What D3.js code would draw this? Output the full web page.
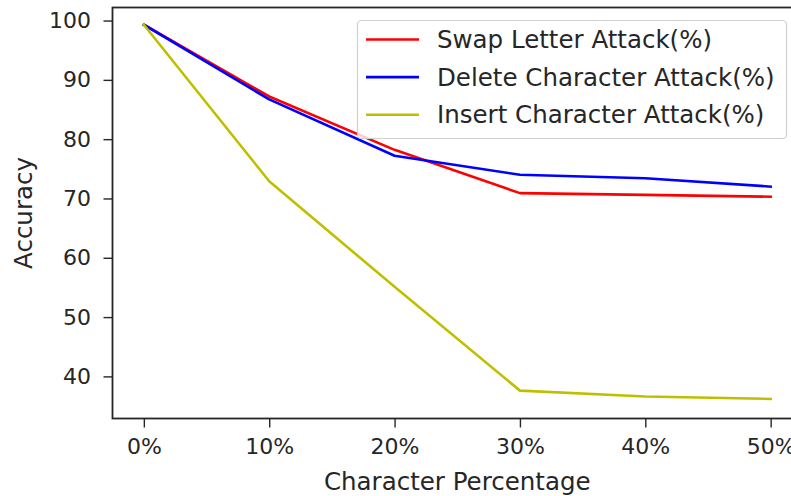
<!DOCTYPE html>
<html>
<head>
<meta charset="utf-8">
<script src="https://cdn.jsdelivr.net/npm/d3@7"></script>
<style>
  body { margin: 0; background: #fff; }
  text { font-family: "DejaVu Sans", sans-serif; fill: #262626; }
</style>
</head>
<body>
<div class="chart"></div>
<script>
var categories = ["0%", "10%", "20%", "30%", "40%", "50%"];
var swapLetter = [99.3, 87.2, 78.2, 70.9, 70.6, 70.3];
var deleteChar = [99.3, 86.7, 77.2, 74.0, 73.4, 72.0];
var insertChar = [99.3, 72.9, 55.1, 37.6, 36.6, 36.2];
var yTicks = [40, 50, 60, 70, 80, 90, 100];
var seriesNames = ["Swap Letter Attack(%)", "Delete Character Attack(%)", "Insert Character Attack(%)"];
var seriesColors = ["#ff0000", "#0000ff", "#bfbf00"];

var width = 791, height = 496;
var plot = { left: 112.5, right: 802, top: 7.5, bottom: 418.5 };
var tickFont = 22;
var labelFont = 24.5;

var svg = d3.select(".chart")
  .append("svg")
  .attr("width", width)
  .attr("height", height);

var xScale = d3.scaleLinear()
  .domain([-0.25, categories.length - 1 + 0.25])
  .range([plot.left, plot.right]);

var yScale = d3.scaleLinear()
  .domain([32.9, 102.2])
  .range([plot.bottom, plot.top]);

var allSeries = [swapLetter, deleteChar, insertChar];

var line = d3.line()
  .x((d, i) => xScale(i))
  .y(d => yScale(d));

svg.selectAll('path.series')
  .data(allSeries)
  .enter()
  .append('path')
  .classed('series', true)
  .attr('d', line)
  .attr('fill', 'none')
  .attr('stroke', (d, i) => seriesColors[i])
  .attr('stroke-width', 2.6)
  .attr('stroke-linejoin', 'round')
  .attr('stroke-linecap', 'square');

// axes
var xAxis = svg.append('g')
  .attr('transform', `translate(0, ${plot.bottom})`)
  .call(d3.axisBottom(xScale)
    .tickValues(d3.range(categories.length))
    .tickFormat(i => categories[i])
    .tickSizeInner(9)
    .tickSizeOuter(0)
    .tickPadding(11));

var yAxis = svg.append('g')
  .attr('transform', `translate(${plot.left}, 0)`)
  .call(d3.axisLeft(yScale)
    .tickValues(yTicks)
    .tickSizeInner(9)
    .tickSizeOuter(0)
    .tickPadding(12.5));

[xAxis, yAxis].forEach(function (ax) {
  ax.select('.domain').remove();
  ax.selectAll('line').attr('stroke', '#262626').attr('stroke-width', 1.4);
  ax.selectAll('text')
    .style('font-family', '"DejaVu Sans", sans-serif')
    .style('font-size', tickFont + 'px')
    .attr('fill', '#262626');
});

// spines
svg.append('rect')
  .attr('x', plot.left)
  .attr('y', plot.top)
  .attr('width', plot.right - plot.left)
  .attr('height', plot.bottom - plot.top)
  .attr('fill', 'none')
  .attr('stroke', '#262626')
  .attr('stroke-width', 1.8);

// axis titles
svg.append('text')
  .attr('x', (plot.left + plot.right) / 2)
  .attr('y', 490)
  .attr('text-anchor', 'middle')
  .style('font-size', labelFont + 'px')
  .text('Character Percentage');

svg.append('text')
  .attr('transform', `translate(32, ${(plot.top + plot.bottom) / 2}) rotate(-90)`)
  .attr('text-anchor', 'middle')
  .style('font-size', labelFont + 'px')
  .text('Accuracy');

// legend
var legend = svg.append('g');
legend.append('rect')
  .attr('x', 357.5)
  .attr('y', 20.5)
  .attr('width', 429)
  .attr('height', 118)
  .attr('rx', 4)
  .attr('fill', '#fff')
  .attr('fill-opacity', 0.8)
  .attr('stroke', '#d0d0d0')
  .attr('stroke-width', 1.2);

var rowY = d3.scalePoint()
  .domain(seriesNames)
  .range([39.5, 114.7]);

var rows = legend.selectAll('g.row')
  .data(seriesNames)
  .enter()
  .append('g')
  .classed('row', true)
  .attr('transform', d => `translate(0, ${rowY(d)})`);

rows.append('line')
  .attr('x1', 366)
  .attr('x2', 419)
  .attr('stroke', (d, i) => seriesColors[i])
  .attr('stroke-width', 2.6);

rows.append('text')
  .attr('x', 437)
  .attr('dy', '0.35em')
  .style('font-size', labelFont + 'px')
  .text(d => d);
</script>
</body>
</html>
